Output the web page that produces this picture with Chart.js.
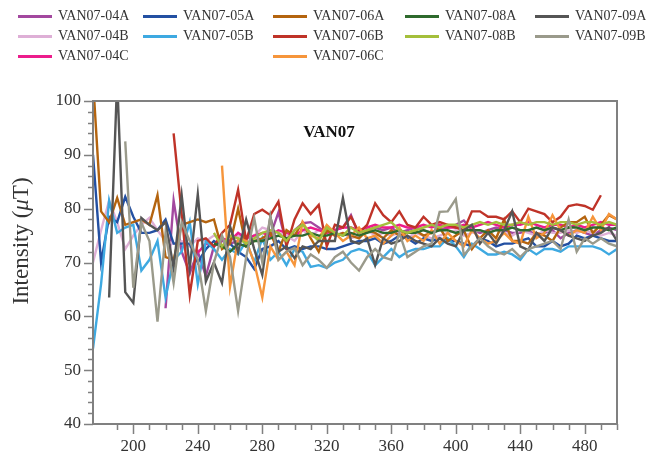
<!DOCTYPE html>
<html>
<head>
<meta charset="utf-8">
<script src="https://cdn.jsdelivr.net/npm/chart.js@4"></script>
<style>
  body { margin: 0; background: #fff; }
  #wrap { position: relative; width: 646px; height: 457px; }
  #grafico { position: absolute; left: 0; top: 0; }
  .leyenda { position: absolute; height: 20px; display: flex; align-items: center;
    font-family: 'Liberation Serif', 'Times New Roman', serif; font-size: 14px; color: #333; white-space: nowrap; }
  .leyenda .linea { display: inline-block; width: 34px; height: 3px; margin-right: 6px; }
</style>
</head>
<body>
<div id="wrap">
  <canvas id="grafico" width="646" height="457"></canvas>
</div>
<script>
// eje x (cada 5 unidades)
const temps = [175,180,185,190,195,200,205,210,215,220,225,230,235,240,245,250,255,260,265,270,
  275,280,285,290,295,300,305,310,315,320,325,330,335,340,345,350,355,360,365,370,
  375,380,385,390,395,400,405,410,415,420,425,430,435,440,445,450,455,460,465,470,
  475,480,485,490,495,500];

const n = null;
// valores (µT)
const s04A = [n,n,n,n,n,n,n,n,n,61.5, 81.5,72,68,72,67.5,73,74,73.5,74,74.5,
  75,74,75,79.3,73.5,76,77.3,77.5,76.5,75.5, 76,76.5,78.8,75,76,76.5,76,76.5,75.5,76,
  76.5,76,75.5,76,76.5,77,77.8,76,75.5,76, 76.5,76,75.5,75.5,76,75,75.5,76,74.5,75.5,
  76,75.5,75,76,76.5,76];
const s04B = [70,76,81.5,77.5,72.5,75,77,78.3,76,74, 73.5,74,73,74.5,74,75,74.5,74,75,74.5,
  75,76.5,76,75.5,75,74,76,75,76,75.5, 75,75.5,74.5,75,76,75,75.5,75,75.5,74.5,
  75.5,75,74.5,75,75.5,76,75,75.5,76,75.5, 76,75.5,75,76,75.5,75,76,75.5,75.5,76,
  75.5,76,75.5,75,75.5,75];
const s04C = [n,n,n,n,n,n,n,n,n,n, n,n,n,71.8,73.5,73,74.5,74,75.5,74.5,
  75,75.5,75,76,75.5,75,76,76.5,76,75.5, 76,76.5,76.5,76,76.5,77,76.5,76.5,77,76.5,
  76.5,77,76.5,77,76.5,76.5,77,76.5,77,77.5, 77,76.5,77,77,77.5,77,76.5,77,77,76.5,
  77,76.5,77,77.5,77,77];
const s05A = [90,70,78.5,77.5,82.2,78.5,75.5,75.5,76,78, 73.5,73.5,73.5,70,72.5,74,73,73.5,72,71,
  68.8,72.5,73,74,72.5,73,72.5,73,73,72.5, 72.5,73,73.5,74,74,74.5,73.5,74,75,74.5,
  73.5,74.5,74,74.5,74,74,73.5,73,74.5,74, 73,73.5,73.5,74,74.5,73,73,74,73,73.5,
  75,74.5,75,74.5,74,74];
const s05B = [54,66,81.5,75.5,76.5,77,68.5,70.5,74,63.5, 70.5,72,77.5,66,74,72.5,70.5,72.5,71.5,74,
  70,74.5,70.5,72,69.5,72.5,72,69.2,69.5,69, 70,70.5,72,72.5,72,69.5,71,72.5,71,72,
  72.5,72.5,73,73,74.5,73,71,73.5,72.5,71.5, 71.5,72,71.5,70.5,72.5,71.5,72.5,72.5,72,73,
  73,73,73,72.5,71.5,72.5];
const s06A = [104,79.5,77.5,82,77,77.5,78,77,82.5,71, 70.5,77,77.5,78,77.5,78,72.5,73.5,80,73,
  74,74.5,75.5,72,76,75,77.5,74.5,72,76, 75,75.5,75,74.5,76,75.5,74.5,76,75,75.5,
  76,75,75.5,76.5,74,75,76,72.5,74.5,76, 74.5,78,74,74,73.5,75.5,75,74,76.5,77.5,
  77.5,78.5,75.5,77,78.8,78];
const s06B = [n,n,n,n,n,n,n,n,n,n, 94,79,64,74,74.5,73,75.5,77,83.5,74,
  79,79.8,78.8,81.3,73,78,81,79,80.7,73, 77,76.5,78.5,75.5,77,81,78.8,77.5,79.5,77,
  76.5,78.5,77,77.5,77,76.5,76,79.5,79.5,78.5, 78.5,78,79.5,77.5,80,79.5,79,77.5,78.5,80.5,
  80.8,80.5,79.8,82.5,n,n];
const s06C = [n,n,n,n,n,n,n,n,n,n, n,n,n,n,n,n,88,65.5,74.5,74,
  70,63.5,73,70.5,72,69.5,77.5,75,74.5,77, 75.5,74,75,76.5,74.5,75,73.5,75,76.5,74,
  75,74,76,73.5,75.5,74,73,76,74.5,73.5, 74,75.5,74,73.5,78.5,74.5,75.5,78.8,76,75,
  76,75.5,78.5,76,79,78];
const s08A = [n,n,n,n,n,n,n,n,n,n, n,n,n,n,n,73.5,73,72,73.5,73,
  74,74,74.5,75,74.5,75,75,75.5,75,75, 75.5,75,75.5,75,75.5,76,75.5,75.5,76,75.5,
  75.5,76,75.5,76,76,75.5,76,76,76,75.5, 76,76,76.5,76,76,76.5,76,76.5,76,76.5,
  76.5,76,76.5,76.5,76,76.5];
const s08B = [n,n,n,n,n,n,n,n,n,n, n,n,n,n,n,75.5,73,75,74.5,73.5,
  74.5,75.5,76,75.5,74,76,77,75.5,74,76.5, 75.5,75,76.5,75.5,76,76.5,77,77.5,76,75.5,
  76,76.5,77,76.5,77,77,76.5,77,77.5,77, 77.5,77,77,77.5,77,77.5,77.5,77,77.5,77.5,
  77,77.5,77.5,77,77.5,77];
const s09A = [n,n,63.5,104,64.5,62.5,78.3,77,76,77.5, 69,82.5,69,82.7,66.5,70,66.2,76.7,72,78,
  72.5,67.7,78.5,72,73,70.8,73,72.5,74,74, 74,82,74,73.5,74.5,69.5,74.5,73.5,74,75,
  74,73.5,73,74.5,73.5,73,76,77,73.5,75.5, 73.5,76,79.5,73,72.3,75.5,74,76.5,76,75,
  74.5,74,75,75.5,76.5,74];
const s09B = [n,n,n,n,92.5,65.3,77.4,74,59,75.5, 66.2,77.5,74,70.5,61,70,75,71,61,71,
  78.2,70,78.5,70.5,72,72.7,69.5,71.5,70.5,69, 71,72,70,68.5,71,72.5,71,70.5,75.5,71,
  72,73,73.5,79.4,79.5,81.8,71.4,73,74.5,73, 72,71.5,72.5,71,72.5,73,73.5,74,72.5,78,
  72,74.5,73.5,74.5,73.5,73];

const nombres = ['VAN07-04A','VAN07-04B','VAN07-04C','VAN07-05A','VAN07-05B','VAN07-06A',
  'VAN07-06B','VAN07-06C','VAN07-08A','VAN07-08B','VAN07-09A','VAN07-09B'];
const series = [s04A, s04B, s04C, s05A, s05B, s06A, s06B, s06C, s08A, s08B, s09A, s09B];
const colores = ['#a3489f','#deafd6','#ec1c8c','#2350a2','#3ea9e1','#b4640f',
  '#bf3328','#f6953b','#2e6a2d','#a4bf3b','#555555','#9a9a8b'];

const yTicks = [40, 50, 60, 70, 80, 90, 100];
const xTicks = [200, 240, 280, 320, 360, 400, 440, 480];

const fuente = "'Liberation Serif', 'Times New Roman', serif";
const gris = '#808080';

// leyenda en html: columna por muestra, fila por letra
const colX = { '04': 18, '05': 143, '06': 273, '08': 405, '09': 535 };
const filaY = { 'A': 6, 'B': 26, 'C': 46 };
const wrap = document.getElementById('wrap');
nombres.forEach((nom, i) => {
  const div = document.createElement('div');
  div.className = 'leyenda';
  div.style.left = colX[nom.slice(6, 8)] + 'px';
  div.style.top = filaY[nom.slice(8)] + 'px';
  div.innerHTML = '<span class="linea" style="background:' + colores[i] + '"></span>' + nom;
  wrap.appendChild(div);
});

// marco, marcas de ejes, titulo y etiqueta del eje y
const marco = {
  id: 'marco',
  afterDraw(chart) {
    const { ctx, chartArea: a, scales } = chart;
    ctx.save();
    ctx.strokeStyle = gris;
    ctx.lineWidth = 2;
    ctx.strokeRect(a.left, a.top, a.right - a.left, a.bottom - a.top);
    ctx.lineWidth = 1.5;
    ctx.beginPath();
    scales.y.ticks.forEach(t => {
      const py = Math.round(scales.y.getPixelForValue(t.value)) + 0.5;
      const largo = t.value % 10 === 0 ? 9 : 5;
      ctx.moveTo(a.left - largo, py);
      ctx.lineTo(a.left, py);
    });
    scales.x.ticks.forEach(t => {
      if (t.value % 10 !== 0) return;
      const px = Math.round(scales.x.getPixelForValue(t.value)) + 0.5;
      const largo = t.value % 40 === 0 ? 10 : 6;
      ctx.moveTo(px, a.bottom);
      ctx.lineTo(px, a.bottom + largo);
    });
    ctx.stroke();

    ctx.fillStyle = '#111';
    ctx.font = 'bold 17px ' + fuente;
    ctx.textAlign = 'center';
    ctx.textBaseline = 'middle';
    ctx.fillText('VAN07', 329, 133);

    // Intensity (µT) con mu en cursiva
    ctx.translate(22, 241);
    ctx.rotate(-Math.PI / 2);
    ctx.fillStyle = '#333';
    ctx.textAlign = 'left';
    const partes = [['Intensity (', '23px '], ['\u03bc', 'italic 23px '], ['T)', '23px ']];
    let total = 0;
    partes.forEach(p => { ctx.font = p[1] + fuente; total += ctx.measureText(p[0]).width; });
    let x = -total / 2;
    partes.forEach(p => {
      ctx.font = p[1] + fuente;
      ctx.fillText(p[0], x, 0);
      x += ctx.measureText(p[0]).width;
    });
    ctx.restore();
  }
};

const datasets = series.map((vals, i) => ({
  label: nombres[i],
  data: temps.map((t, j) => ({ x: t, y: vals[j] })).filter(p => p.y !== null),
  borderColor: colores[i],
  backgroundColor: colores[i],
  borderWidth: 2.4,
  pointRadius: 0,
  tension: 0,
  clip: 0,
  order: series.length - i
}));

new Chart(document.getElementById('grafico'), {
  type: 'line',
  data: { datasets },
  options: {
    responsive: false,
    animation: false,
    devicePixelRatio: 1,
    layout: { padding: { top: 101, right: 29, left: 0, bottom: 0 } },
    plugins: { legend: { display: false }, tooltip: { enabled: false } },
    scales: {
      x: {
        type: 'linear', min: 175, max: 500,
        afterFit(scale) { scale.height = 33; },
        grid: { display: false },
        border: { display: false },
        ticks: {
          stepSize: 10, autoSkip: false, maxRotation: 0, padding: 4,
          color: '#333', font: { family: fuente, size: 17 },
          callback: v => xTicks.includes(v) ? v : ''
        }
      },
      y: {
        min: 40, max: 100,
        afterFit(scale) { scale.width = 93; },
        grid: { display: false },
        border: { display: false },
        ticks: {
          stepSize: 2, autoSkip: false, padding: 4,
          color: '#333', font: { family: fuente, size: 17 },
          callback: v => yTicks.includes(v) ? v : ''
        }
      }
    }
  },
  plugins: [marco]
});
</script>
</body>
</html>
